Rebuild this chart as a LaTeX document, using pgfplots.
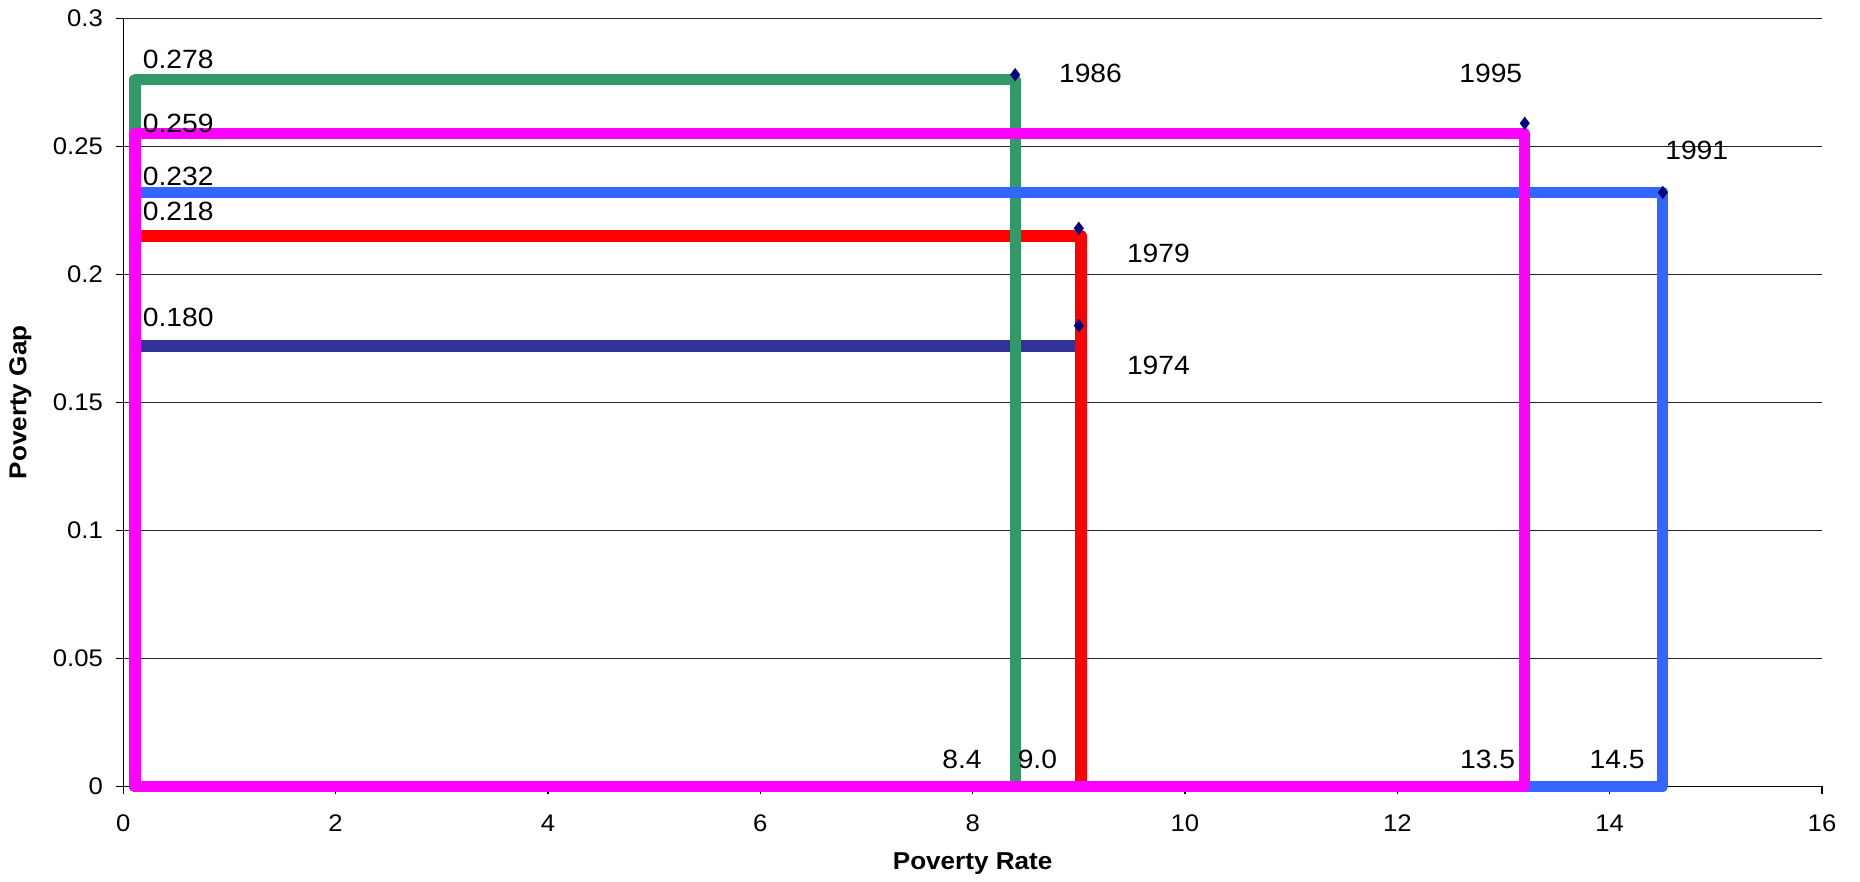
\documentclass[border=0pt]{standalone}
\usepackage{fontspec}
\setmainfont{Liberation Sans}[FakeStretch=1.07]
\usepackage{pgfplots}
\pgfplotsset{compat=1.18}

\definecolor{navyline}{HTML}{333399}
\definecolor{redline}{HTML}{FF0000}
\definecolor{greenline}{HTML}{339966}
\definecolor{blueline}{HTML}{3366FF}
\definecolor{magline}{HTML}{FF00FF}
\definecolor{markblue}{HTML}{000080}

\begin{document}
\begin{tikzpicture}[font=\fontsize{13.2}{15}\selectfont]
\begin{axis}[
  name=ax,
  scale only axis,
  width=849.35pt, height=384.1pt,
  xmin=0, xmax=16, ymin=0, ymax=0.3,
  xtick={0,2,4,6,8,10,12,14,16},
  xticklabels={0,2,4,6,8,10,12,14,16},
  ytick={0,0.05,0.1,0.15,0.2,0.25,0.3},
  yticklabels={0,0.05,0.1,0.15,0.2,0.25,0.3},
  axis x line*=bottom, axis y line*=left,
  axis line style={black, line width=0.6pt},
  tick align=outside,
  major tick length=3.8pt,
  tick style={black, line width=0.6pt},
  ymajorgrids,
  grid style={black!85, line width=0.6pt},
  ticklabel style={font=\fontsize{12}{14}\selectfont},
  xticklabel style={anchor=center, inner sep=0pt, yshift=-14.7pt},
  yticklabel style={anchor=east, inner sep=0pt, xshift=-6.2pt},
  xlabel={\bfseries Poverty Rate},
  ylabel={\bfseries Poverty Gap},
  label style={font=\fontsize{12.2}{14}\selectfont},
  xlabel style={at={(axis description cs:0.5,-0.1002)}, anchor=center, inner sep=0pt},
  ylabel style={at={(axis description cs:-0.0606,0.5)}, anchor=center, inner sep=0pt},
  clip=false,
]
% observed points (year markers)
\addplot[only marks, mark=diamond*, mark size=3pt, color=markblue]
  coordinates {(8.4,0.278) (9.0,0.218) (9.0,0.180) (14.5,0.232) (13.2,0.259)};

% rectangles: poverty rate x poverty gap
\addplot[draw=navyline, line width=5.6pt, line join=round, mark=none]
  coordinates {(0.11,0) (0.11,0.172) (9.02,0.172) (9.02,0)} --cycle;
\addplot[draw=redline, line width=5.6pt, line join=round, mark=none]
  coordinates {(0.11,0) (0.11,0.215) (9.02,0.215) (9.02,0)} --cycle;
\addplot[draw=greenline, line width=5.6pt, line join=round, mark=none]
  coordinates {(0.11,0) (0.11,0.276) (8.4,0.276) (8.4,0)} --cycle;
\addplot[draw=blueline, line width=5.6pt, line join=round, mark=none]
  coordinates {(0.11,0) (0.11,0.232) (14.5,0.232) (14.5,0)} --cycle;
\addplot[draw=magline, line width=5.6pt, line join=round, mark=none]
  coordinates {(0.11,0) (0.11,0.255) (13.2,0.255) (13.2,0)} --cycle;

% gap labels
\node[anchor=west, inner sep=0pt] at (axis cs:0.18,0.2841) {0.278};
\node[anchor=west, inner sep=0pt] at (axis cs:0.18,0.2591) {0.259};
\node[anchor=west, inner sep=0pt] at (axis cs:0.18,0.2382) {0.232};
\node[anchor=west, inner sep=0pt] at (axis cs:0.18,0.2245) {0.218};
\node[anchor=west, inner sep=0pt] at (axis cs:0.18,0.1831) {0.180};
% year labels
\node[inner sep=0pt] at (axis cs:9.11,0.2786) {1986};
\node[inner sep=0pt] at (axis cs:12.88,0.2786) {1995};
\node[inner sep=0pt] at (axis cs:14.82,0.2486) {1991};
\node[inner sep=0pt] at (axis cs:9.75,0.2080) {1979};
\node[inner sep=0pt] at (axis cs:9.75,0.1646) {1974};
% rate labels
\node[inner sep=0pt] at (axis cs:7.90,0.0104) {8.4};
\node[inner sep=0pt] at (axis cs:8.61,0.0104) {9.0};
\node[inner sep=0pt] at (axis cs:12.85,0.0104) {13.5};
\node[inner sep=0pt] at (axis cs:14.07,0.0104) {14.5};
\end{axis}
\pgfresetboundingbox
\path (ax.south west) ++(-61.65pt,-47.75pt) rectangle ++(930pt,441pt);
\end{tikzpicture}
\end{document}
